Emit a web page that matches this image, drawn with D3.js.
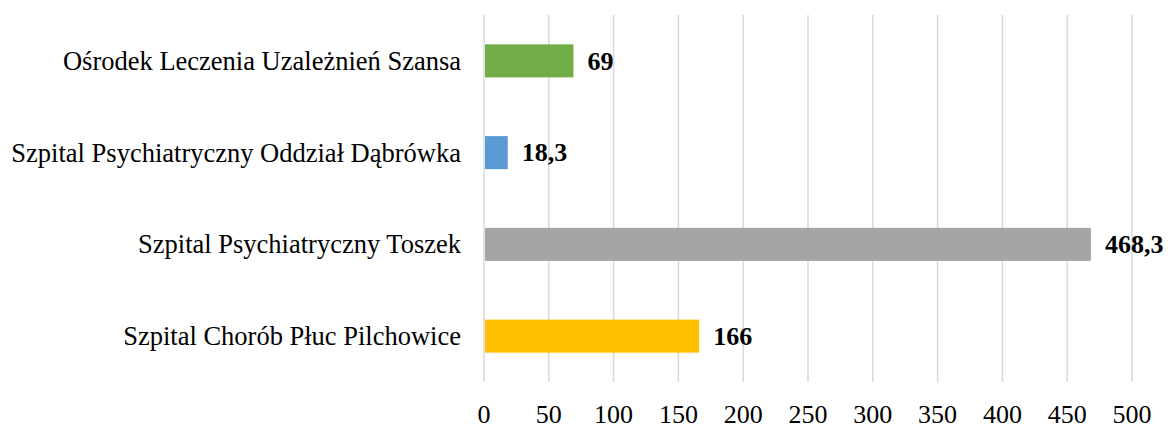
<!DOCTYPE html>
<html>
<head>
<meta charset="utf-8">
<script src="https://cdn.jsdelivr.net/npm/d3@7"></script>
<style>
  body { margin: 0; background: #fff; }
</style>
</head>
<body>
<svg width="1173" height="428"></svg>
<script>
    // data
    const categories = [
        'Ośrodek Leczenia Uzależnień Szansa',
        'Szpital Psychiatryczny Oddział Dąbrówka',
        'Szpital Psychiatryczny Toszek',
        'Szpital Chorób Płuc Pilchowice'
    ];
    const values = [69, 18.3, 468.3, 166];
    const valueLabels = ['69', '18,3', '468,3', '166'];
    const colors = ['#70ad47', '#5b9bd5', '#a5a5a5', '#ffc000'];
    const ticks = [0, 50, 100, 150, 200, 250, 300, 350, 400, 450, 500];

    const FONT = "'Liberation Serif', 'DejaVu Serif', serif";

    const svg = d3.select('svg');
    const margin = { top: 15, left: 484, right: 41, bottom: 46 };
    const width = 1173 - margin.left - margin.right,
        height = 428 - margin.top - margin.bottom;

    const g = svg.append('g')
        .attr('transform', 'translate(' + margin.left + ',' + margin.top + ')')
        .attr('font-family', FONT);

    const x = d3.scaleLinear().domain([0, 500]).range([0, width]);
    const y = d3.scaleBand().domain(categories).range([0, height]).paddingInner(0.64).paddingOuter(0.32);

    // grid
    g.selectAll('line.grid')
        .data(ticks)
        .enter().append('line')
        .attr('class', 'grid')
        .attr('x1', d => x(d)).attr('x2', d => x(d))
        .attr('y1', 0).attr('y2', height)
        .attr('stroke', '#d9d9d9')
        .attr('stroke-width', 1.5);

    // tick labels
    g.selectAll('text.tick')
        .data(ticks)
        .enter().append('text')
        .attr('class', 'tick')
        .attr('x', d => x(d))
        .attr('y', height + 41)
        .attr('text-anchor', 'middle')
        .attr('font-family', FONT)
        .style('font-size', '26px')
        .text(d => d);

    // category labels
    g.selectAll('text.cat')
        .data(categories)
        .enter().append('text')
        .attr('class', 'cat')
        .attr('x', -23)
        .attr('y', d => y(d) + y.bandwidth() / 2)
        .attr('dy', '0.34em')
        .attr('text-anchor', 'end')
        .attr('font-family', FONT)
        .style('font-size', '26.5px')
        .text(d => d);

    // bars
    g.selectAll('rect.bar')
        .data(categories)
        .enter().append('rect')
        .attr('class', 'bar')
        .attr('x', x(0) + 1)
        .attr('y', d => y(d))
        .attr('width', (d, i) => x(values[i]) - x(0) - 1)
        .attr('height', y.bandwidth())
        .attr('fill', (d, i) => colors[i]);

    // value labels
    g.selectAll('text.val')
        .data(categories)
        .enter().append('text')
        .attr('class', 'val')
        .attr('x', (d, i) => x(values[i]) + 14)
        .attr('y', d => y(d) + y.bandwidth() / 2)
        .attr('dy', '0.34em')
        .attr('font-family', FONT)
        .style('font-size', '26px')
        .style('font-weight', 'bold')
        .text((d, i) => valueLabels[i]);
</script>
</body>
</html>
